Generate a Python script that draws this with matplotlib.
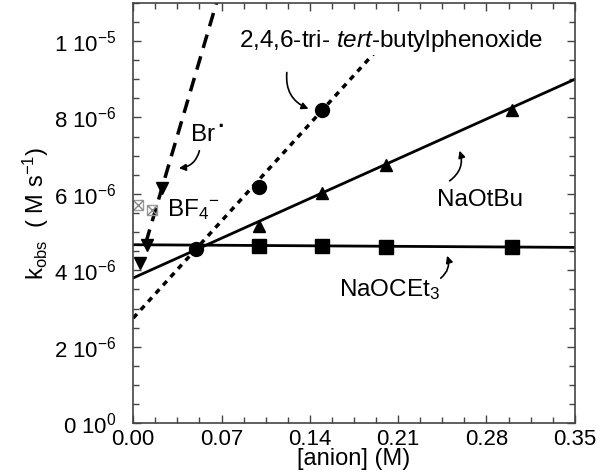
import numpy as np
import matplotlib
matplotlib.use("Agg")
import matplotlib.pyplot as plt
from matplotlib.ticker import MultipleLocator, FixedLocator, FixedFormatter

plt.rcParams['font.family'] = ['Liberation Sans', 'DejaVu Sans']
plt.rcParams['mathtext.fontset'] = 'custom'
plt.rcParams['mathtext.rm'] = 'Liberation Sans'
plt.rcParams['mathtext.it'] = 'Liberation Sans:italic'

# data
x_oet3 = [0.10, 0.15, 0.20, 0.30]
y_oet3 = [4.63e-6, 4.63e-6, 4.62e-6, 4.6e-6]
fit_oet3_x = [0.0, 0.35]
fit_oet3_y = [4.67e-6, 4.6e-6]

x_otbu = [0.10, 0.15, 0.20, 0.30]
y_otbu = [5.16e-6, 6.02e-6, 6.75e-6, 8.19e-6]
fit_otbu_x = [0.0, 0.35]
fit_otbu_y = [3.80e-6, 9.0e-6]

x_phen = [0.05, 0.10, 0.15]
y_phen = [4.55e-6, 6.17e-6, 8.19e-6]
fit_phen_x = [0.0, 0.209]
fit_phen_y = [2.75e-6, 10.34e-6]

x_br = [0.0055, 0.011, 0.023]
y_br = [4.19e-6, 4.66e-6, 6.15e-6]
fit_br_x = [0.010, 0.066]
fit_br_y = [4.72e-6, 11.0e-6]

x_bf4 = [0.004, 0.015]
y_bf4 = [5.7e-6, 5.57e-6]

xticks = [0.00, 0.07, 0.14, 0.21, 0.28, 0.35]
xticklabels = ['0.00', '0.07', '0.14', '0.21', '0.28', '0.35']
yticks = [0, 2e-6, 4e-6, 6e-6, 8e-6, 1e-5]
yticklabels = [r'0 10$^{0}$', r'2 10$^{-6}$', r'4 10$^{-6}$',
               r'6 10$^{-6}$', r'8 10$^{-6}$', r'1 10$^{-5}$']

fig = plt.figure(figsize=(6, 4.76), dpi=100)
ax = fig.add_axes([0.222, 0.111, 0.736, 0.883])

ax.plot(fit_oet3_x, fit_oet3_y, color='black', lw=2)
ax.plot(x_oet3, y_oet3, 's', color='black', ms=10)

ax.plot(fit_otbu_x, fit_otbu_y, color='black', lw=2)
ax.plot(x_otbu, y_otbu, '^', color='black', ms=8)

ax.plot(fit_phen_x, fit_phen_y, color='black', lw=2.5, dashes=(1.6, 1.6))
ax.plot(x_phen, y_phen, 'o', color='black', ms=10)

ax.plot(fit_br_x, fit_br_y, color='black', lw=2.5, dashes=(4, 2.5))
ax.plot(x_br, y_br, 'v', color='black', ms=8)

ax.plot(x_bf4, y_bf4, 's', mfc='none', mec='#999999', ms=7, mew=1)
ax.plot(x_bf4, y_bf4, 'x', color='#888888', ms=7, mew=1)

ax.set_xlim(0, 0.35)
ax.set_ylim(0, 1.1e-5)
ax.xaxis.set_major_locator(FixedLocator(xticks))
ax.xaxis.set_major_formatter(FixedFormatter(xticklabels))
ax.xaxis.set_minor_locator(MultipleLocator(0.0175))
ax.yaxis.set_major_locator(FixedLocator(yticks))
ax.yaxis.set_major_formatter(FixedFormatter(yticklabels))
ax.yaxis.set_minor_locator(MultipleLocator(5e-7))
ax.tick_params(which='both', direction='in', top=True, right=True, width=1, colors='#444444',
               labelcolor='black', labelsize=16)
ax.tick_params(which='major', length=6)
ax.tick_params(which='minor', length=4)
ax.tick_params(axis='x', pad=4)
ax.tick_params(axis='y', pad=12)
for s in ax.spines.values():
    s.set_linewidth(1.2)
    s.set_color('#444444')

ax.set_xlabel('[anion] (M)', fontsize=17, labelpad=-1)
ax.set_ylabel(r'k$_{\mathrm{obs}}$  ( M s$^{-1}$)', fontsize=17, labelpad=2)

arrow = dict(arrowstyle='-|>', color='black', lw=1.2, mutation_scale=10)
ax.text(0.084, 1.0e-5, r'2,4,6-tri- $\it{tert}$-butylphenoxide', fontsize=17.5, va='center',
        bbox=dict(fc='white', ec='none', pad=0.5))
ax.annotate('', xy=(0.141, 8.2e-6), xytext=(0.122, 9.25e-6),
            arrowprops=dict(connectionstyle='arc3,rad=0.4', **arrow))
ax.text(0.045, 7.55e-6, r'Br$^{\bf\cdot}$', fontsize=17.5, va='center')
ax.annotate('', xy=(0.034, 6.67e-6), xytext=(0.053, 7.2e-6),
            arrowprops=dict(connectionstyle='arc3,rad=-0.4', **arrow))
ax.text(0.027, 5.6e-6, r'BF$_{4}$$^{-}$', fontsize=17.5, va='center')
ax.text(0.241, 5.85e-6, 'NaOtBu', fontsize=17.5, va='center')
ax.annotate('', xy=(0.258, 7.2e-6), xytext=(0.249, 6.3e-6),
            arrowprops=dict(connectionstyle='arc3,rad=0.4', **arrow))
ax.text(0.163, 3.5e-6, r'NaOCEt$_{3}$', fontsize=17.5, va='center')
ax.annotate('', xy=(0.248, 4.45e-6), xytext=(0.242, 3.75e-6),
            arrowprops=dict(connectionstyle='arc3,rad=0.4', **arrow))

fig.savefig('out.png', dpi=100)
